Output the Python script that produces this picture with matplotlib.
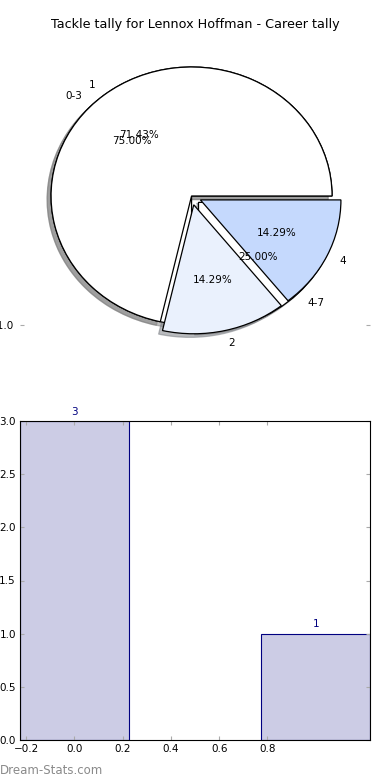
import matplotlib
matplotlib.use("Agg")
import matplotlib.pyplot as plt

# pie data (two overlaid pies, as in the original)
tally_labels = ['1', '2', '4']
tally_counts = [5, 1, 1]
range_labels = ['0-3', '4-7']
range_counts = [3, 1]
pie_colors = ['#ffffff', '#eaf1fd', '#c5d9fd']

# bar data
bar_x = [0, 1]
bar_heights = [3, 1]
bar_texts = ['3', '1']

title = 'Tackle tally for Lennox Hoffman - Career tally'

fig = plt.figure(figsize=(3.9, 7.8), dpi=100)
W, H = 390.0, 780.0

# top: pies
ax1 = fig.add_axes([20 / W, 1 - 358 / H, 350 / W, 319 / H])
wp = dict(edgecolor='black', linewidth=0.9)
shad = dict(ox=-0.02, oy=-0.02, shade=0.5)
ax1.pie(range_counts, labels=range_labels, autopct='%.2f%%', explode=[0, 0.07],
        colors=['#ffffff', '#ffffff'], shadow=shad, wedgeprops=wp,
        textprops=dict(fontsize=7.5))
ax1.pie(tally_counts, labels=tally_labels, autopct='%.2f%%', explode=[0, 0.07, 0.07],
        colors=pie_colors, shadow=shad, wedgeprops=wp,
        textprops=dict(fontsize=7.5))
ax1.set_aspect('auto')
ax1.set_xlim(-1.221, 1.270)
ax1.set_ylim(-1.256, 1.217)
ax1.set_yticks([-1.0])
ax1.set_yticklabels(['\u22121.0'])
ax1.tick_params(axis='y', direction='in', length=3, color='#aaaaaa',
                left=True, right=True, labelsize=7.5, pad=4)
ax1.set_title(title, fontsize=9.2, pad=8)

# bottom: bars
ax2 = fig.add_axes([20 / W, 1 - 740 / H, 350 / W, 319 / H])
bars = ax2.bar(bar_x, bar_heights, width=0.45, color='#ccccE5', edgecolor='#000080',
               linewidth=0.8)
for b, t in zip(bars, bar_texts):
    ax2.text(b.get_x() + b.get_width() / 2, b.get_height() + 0.04, t,
             ha='center', va='bottom', color='#000080', fontsize=7.5)
ax2.set_xlim(-0.225, 1.225)
ax2.set_ylim(0, 3)
ax2.set_xticks([-0.2, 0.0, 0.2, 0.4, 0.6, 0.8])
ax2.set_yticks([0.0, 0.5, 1.0, 1.5, 2.0, 2.5, 3.0])
ax2.tick_params(direction='in', length=3, color='#aaaaaa', top=True, right=True,
                labelsize=7.5, pad=3)
for s in ax2.spines.values():
    s.set_linewidth(0.8)

fig.text(0.0, 1 - 770 / H, 'Dream-Stats.com', color='#8a8a8a', fontsize=8.5,
         ha='left', va='center')

fig.savefig('out.png', dpi=100)
